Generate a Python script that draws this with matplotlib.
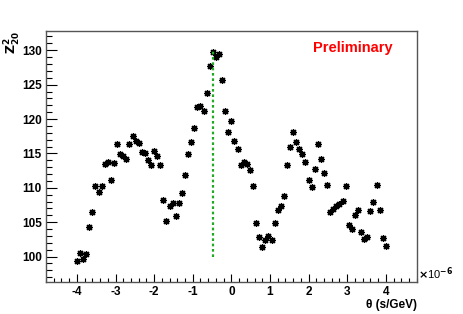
import numpy as np
import matplotlib
matplotlib.use("Agg")
import matplotlib.pyplot as plt
from matplotlib.ticker import MultipleLocator

# theta in units of 1e-6 s/GeV
theta = [-4.00, -3.92, -3.84, -3.76, -3.68, -3.60, -3.52, -3.44, -3.36, -3.28,
         -3.20, -3.12, -3.04, -2.96, -2.88, -2.80, -2.72, -2.64, -2.56, -2.48,
         -2.40, -2.32, -2.24, -2.16, -2.08, -2.00, -1.92, -1.84, -1.76, -1.68,
         -1.60, -1.52, -1.44, -1.36, -1.28, -1.20, -1.12, -1.04, -0.96, -0.88,
         -0.80, -0.72, -0.64, -0.56, -0.48, -0.40, -0.32, -0.24, -0.16, -0.08,
         0.00, 0.08, 0.16, 0.24, 0.32, 0.40, 0.48, 0.56, 0.64, 0.72,
         0.80, 0.88, 0.96, 1.04, 1.12, 1.20, 1.28, 1.36, 1.44, 1.52,
         1.60, 1.68, 1.76, 1.84, 1.92, 2.00, 2.08, 2.16, 2.24, 2.32,
         2.40, 2.48, 2.56, 2.64, 2.72, 2.80, 2.88, 2.96, 3.04, 3.12,
         3.20, 3.28, 3.36, 3.44, 3.52, 3.60, 3.68, 3.76, 3.84, 3.92,
         4.00]

z2 = [99.36, 100.58, 99.71, 100.38, 104.28, 106.45, 110.22, 109.45, 110.32, 113.46,
      113.72, 111.19, 113.55, 116.30, 114.85, 114.66, 114.18, 116.40, 117.55, 116.79,
      116.50, 115.24, 115.09, 114.08, 113.26, 115.34, 114.56, 113.26, 108.19, 105.15,
      107.42, 107.81, 105.88, 107.86, 109.28, 111.84, 114.85, 116.69, 118.71, 121.79,
      121.94, 121.10, 123.82, 127.71, 129.75, 128.99, 129.52, 125.66, 121.20, 118.06,
      119.70, 116.87, 115.63, 113.29, 113.75, 113.46, 112.56, 110.22, 104.92, 102.87,
      101.46, 102.46, 102.98, 102.40, 104.92, 106.74, 107.28, 108.80, 113.31, 115.92,
      118.09, 116.71, 115.57, 114.85, 113.79, 111.17, 110.10, 112.68, 116.35, 114.18,
      112.16, 110.36, 106.53, 106.92, 107.28, 107.57, 108.08, 110.20, 104.63, 103.95,
      105.98, 106.70, 103.63, 102.60, 102.89, 106.58, 107.93, 110.36, 106.80, 102.72,
      101.59]

peak_theta = -0.48
peak_range = [100, 130]

plt.rcParams["font.family"] = ["Liberation Sans", "DejaVu Sans"]
plt.rcParams["font.weight"] = "bold"

fig = plt.figure(figsize=(4.63, 3.14), dpi=100)
ax = fig.add_axes([0.0994, 0.1019, 0.8006, 0.7994])

ax.plot(theta, z2, linestyle="none", marker=(8, 2, 0), markersize=5,
        markeredgewidth=0.9, color="black")
ax.plot([peak_theta, peak_theta], peak_range, linestyle=(0, (1.2, 1.2)),
        color="#22aa22", linewidth=1.6)

ax.set_xlim(-4.8, 4.8)
ax.set_ylim(96.3, 132.8)

ax.xaxis.set_major_locator(MultipleLocator(1))
ax.xaxis.set_minor_locator(MultipleLocator(0.2))
ax.yaxis.set_major_locator(MultipleLocator(5))
ax.yaxis.set_minor_locator(MultipleLocator(1))

ax.tick_params(axis="both", which="both", direction="in", top=False, right=False,
               labelsize=8.5, width=0.8)
ax.tick_params(axis="y", which="major", length=8, pad=3)
ax.tick_params(axis="y", which="minor", length=4)
ax.tick_params(axis="x", which="major", length=5.5, pad=3)
ax.tick_params(axis="x", which="minor", length=3)

ax.xaxis.set_major_formatter(plt.FuncFormatter(lambda v, p: "%d" % round(v)))
ax.yaxis.set_major_formatter(plt.FuncFormatter(lambda v, p: "%d" % round(v)))

for s in ax.spines.values():
    s.set_color("#555555")
    s.set_linewidth(1.0)

fig.text(0.9, 0.03, "θ (s/GeV)", ha="right", va="center", fontsize=8.5)
fig.text(0.902, 0.127, r"$\times$10$^{-6}$", ha="left", va="center",
         fontsize=8, fontweight="normal")
fig.text(0.028, 0.9, r"$\mathbf{Z}^{2}_{20}$", rotation=90, ha="center", va="top",
         fontsize=9)
fig.text(0.762, 0.848, "Preliminary", color="red", ha="center", va="center",
         fontsize=10.5, fontweight="bold")

fig.savefig("out.png", dpi=100, facecolor="white")
